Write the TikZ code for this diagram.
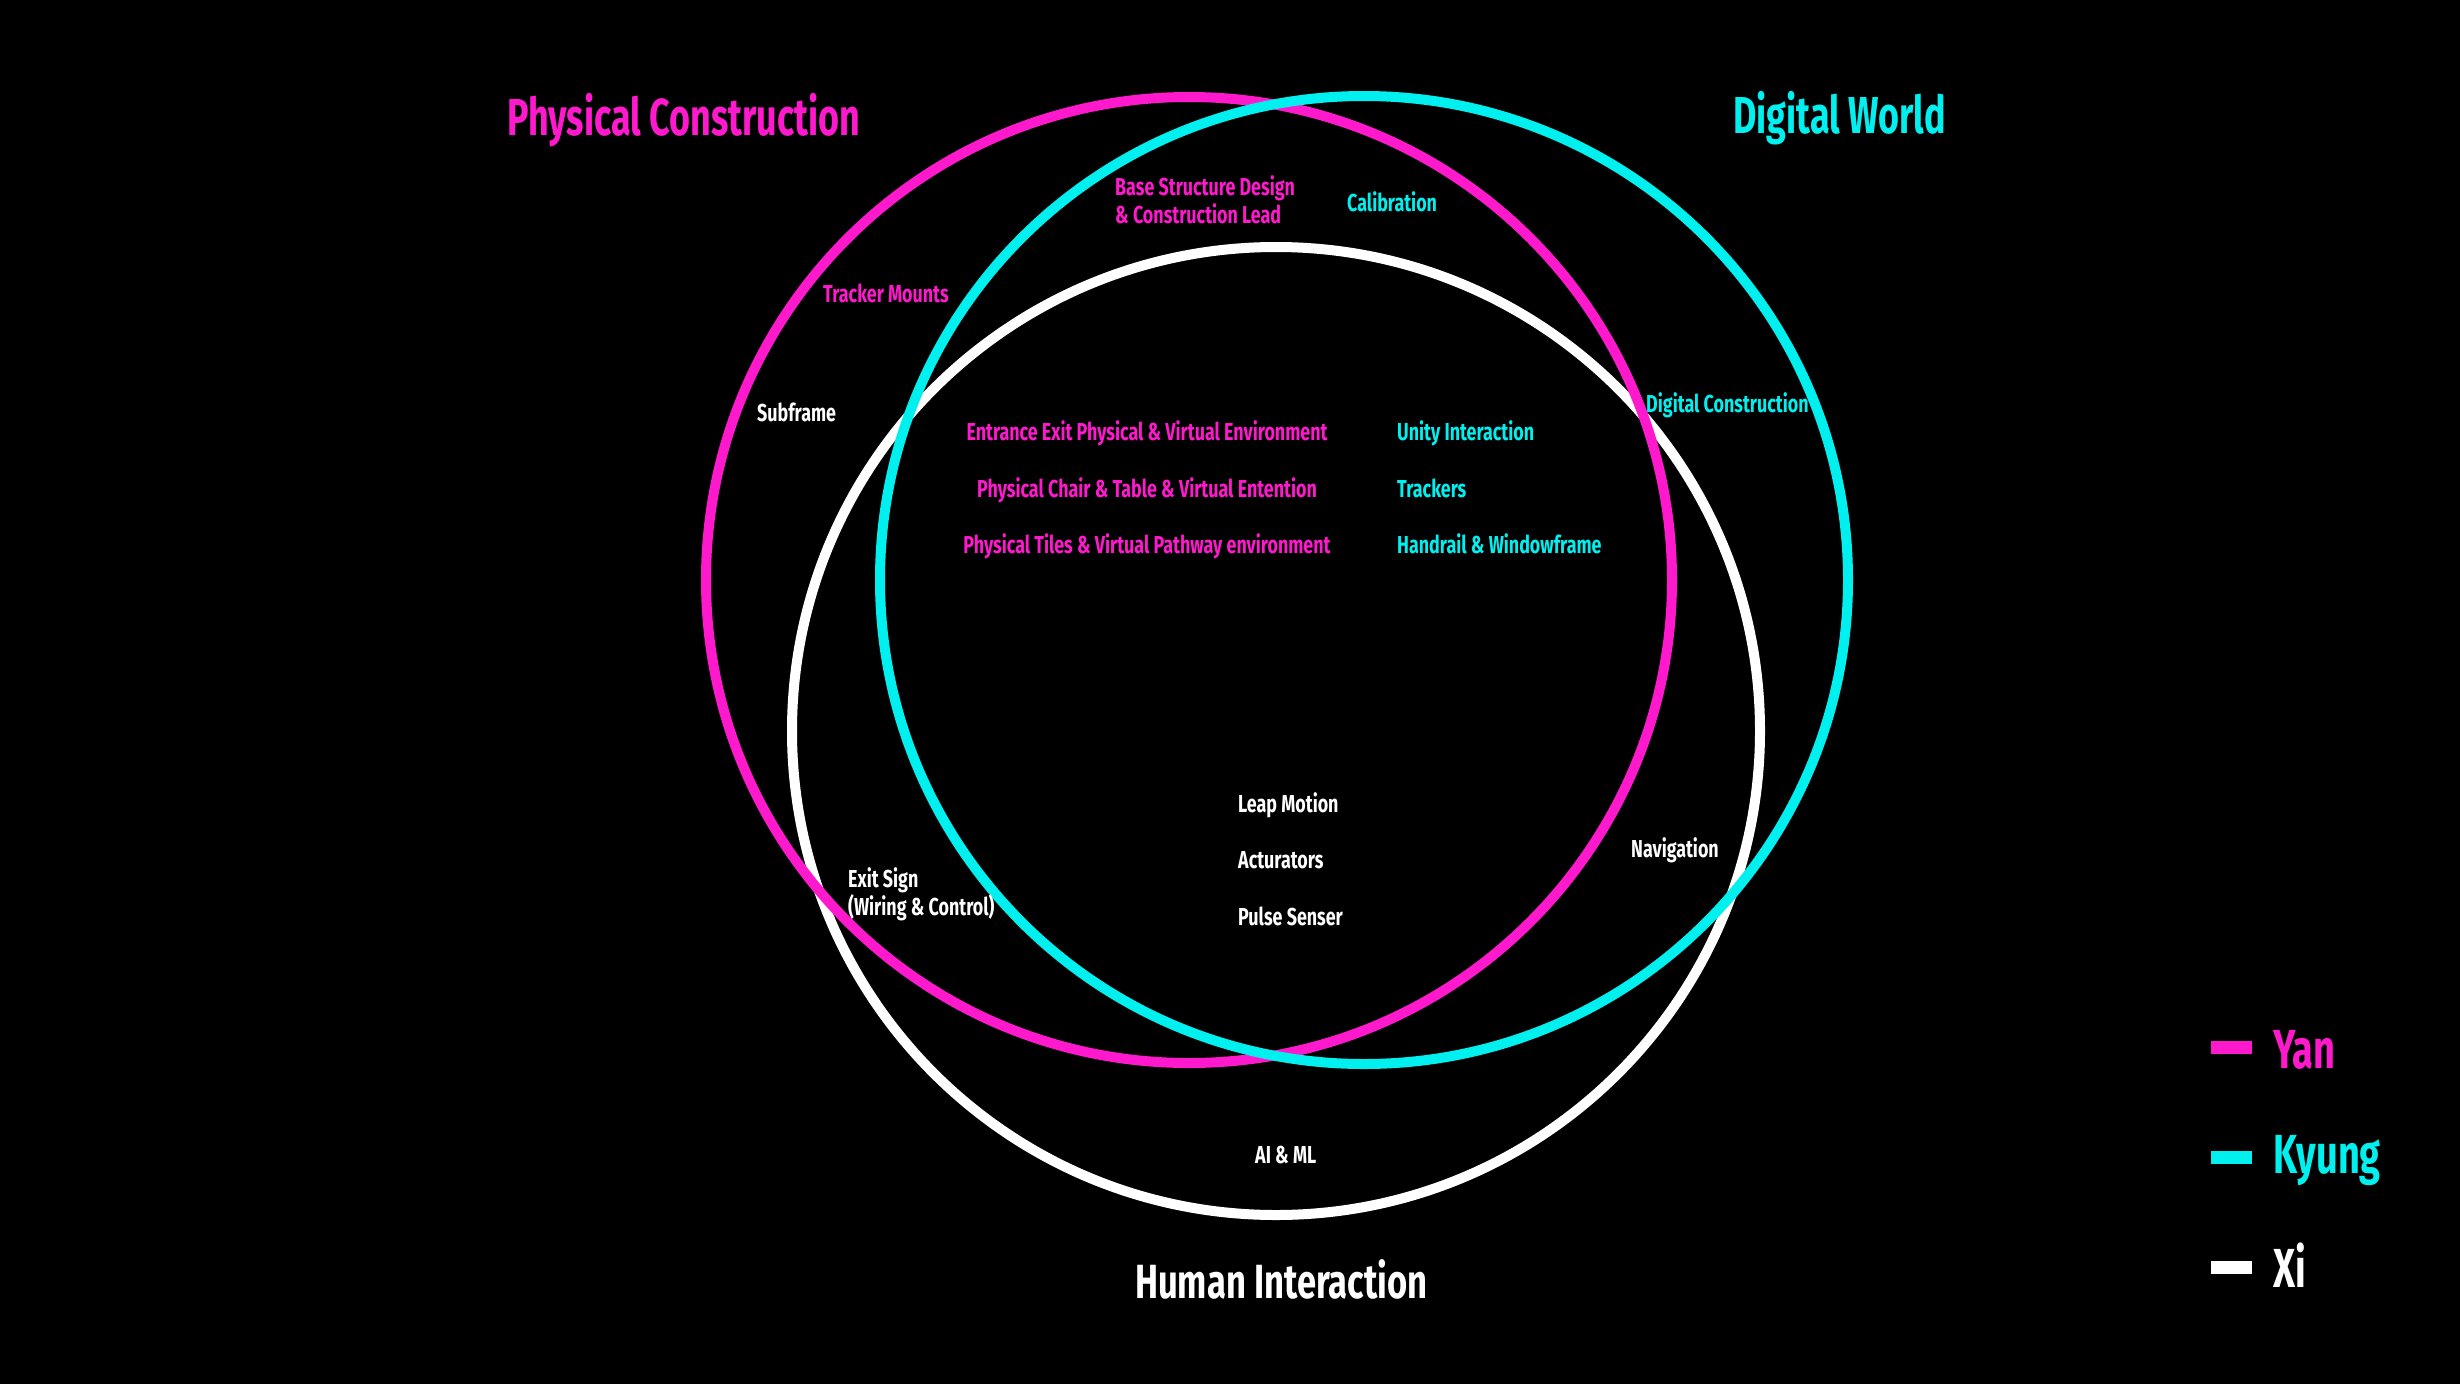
\documentclass[tikz,border=0pt]{standalone}
\usepackage{fontspec}
\setmainfont{Fira Sans}
\newfontfamily\lblfont{Fira Sans}[FakeStretch=0.73]
\newfontfamily\ttlfont{Fira Sans}[FakeStretch=0.69]
\newfontfamily\hifont{Fira Sans}[FakeStretch=0.72]
\definecolor{mag}{RGB}{255,25,205}
\definecolor{cy}{RGB}{0,240,240}
\begin{document}
\begin{tikzpicture}[x=1pt,y=-1pt,
  ring/.style={line width=10pt},
  lbl/.style={inner sep=0pt, font=\lblfont\fontsize{24.5}{28}\selectfont\bfseries},
  ttl/.style={inner sep=0pt, font=\ttlfont\fontsize{52}{60}\selectfont\bfseries},
  leg/.style={inner sep=0pt, font=\ttlfont\fontsize{55}{60}\selectfont\bfseries},
  bar/.style={inner sep=0pt, minimum width=41pt, minimum height=13pt}]
\fill[black] (0,0) rectangle (2460,1384);
\useasboundingbox (0,0) rectangle (2460,1384);
% circles
\draw[ring, white] (1276,731) circle[radius=484pt];
\draw[ring, mag] (1189,580) circle[radius=483pt];
\draw[ring, cy] (1364,580) circle[radius=484pt];
% titles
\node[ttl, mag, anchor=base west] (pc) at (507,135) {Physical Construction};
\node[ttl, cy, anchor=base west] (dw) at (1733,133) {Digital World};
\node[ttl, white, anchor=base west, font=\hifont\fontsize{48}{56}\selectfont\bfseries] (hi) at (1135,1298) {Human Interaction};
% labels
\node[lbl, mag, anchor=base west, align=left] (bsd) at (1115,223) {Base Structure Design\\[0pt]\& Construction Lead};
\node[lbl, cy, anchor=base west] (cal) at (1347,211) {Calibration};
\node[lbl, mag, anchor=base west] (tm) at (823,302) {Tracker Mounts};
\node[lbl, white, anchor=base west] (sf) at (757,421) {Subframe};
\node[lbl, cy, anchor=base west] (dc) at (1646,412) {Digital Construction};
\node[lbl, mag, anchor=base] (ee) at (1147,440) {Entrance Exit Physical \& Virtual Environment};
\node[lbl, mag, anchor=base] (pct) at (1147,497) {Physical Chair \& Table \& Virtual Entention};
\node[lbl, mag, anchor=base] (pt) at (1147,553) {Physical Tiles \& Virtual Pathway environment};
\node[lbl, cy, anchor=base west] (ui) at (1397,440) {Unity Interaction};
\node[lbl, cy, anchor=base west] (tr) at (1397,497) {Trackers};
\node[lbl, cy, anchor=base west] (hw) at (1397,553) {Handrail \& Windowframe};
\node[lbl, white, anchor=base west] (lm) at (1238,812) {Leap Motion};
\node[lbl, white, anchor=base west] (ac) at (1238,868) {Acturators};
\node[lbl, white, anchor=base west] (ps) at (1238,925) {Pulse Senser};
\node[lbl, white, anchor=base west] (nav) at (1631,857) {Navigation};
\node[lbl, white, anchor=base west, align=left] (es) at (848,915) {Exit Sign\\[0pt](Wiring \& Control)};
\node[lbl, white, anchor=base west] (ai) at (1255,1163) {AI \& ML};
% legend
\node[bar, fill=mag, anchor=north west] (b1) at (2211,1041) {};
\node[bar, fill=cy, anchor=north west] (b2) at (2211,1151) {};
\node[bar, fill=white, anchor=north west] (b3) at (2211,1261) {};
\node[leg, mag, anchor=base west] (yan) at (2273,1068) {Yan};
\node[leg, cy, anchor=base west] (ky) at (2273,1173) {Kyung};
\node[leg, white, anchor=base west] (xi) at (2273,1287) {Xi};
\end{tikzpicture}
\end{document}
